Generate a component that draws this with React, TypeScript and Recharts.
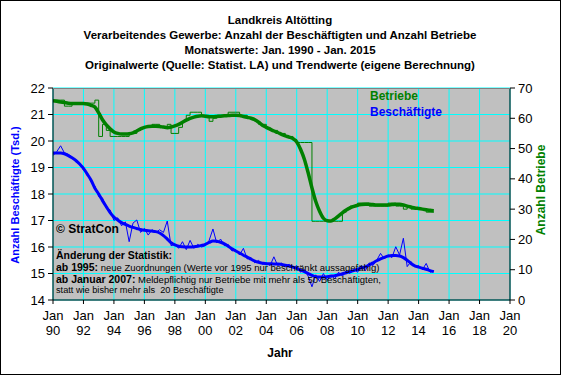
import React from "react";
import { ComposedChart, Line, XAxis, YAxis, CartesianGrid } from "recharts";

// Quarterly readings, Jan 1990 .. Jan 2015
const START_YEAR = 1990;
const STEP_YEARS = 0.25;

// Anzahl Beschäftigte (Tsd.) – Trendwerte
const beschTrend = [
  19.55, 19.55, 19.55, 19.52,
  19.45, 19.37, 19.27, 19.13,
  18.97, 18.75, 18.52, 18.22,
  18.0, 17.75, 17.52, 17.3,
  17.13, 17.02, 16.92, 16.85,
  16.79, 16.74, 16.7, 16.66,
  16.63, 16.61, 16.6, 16.58,
  16.53, 16.43, 16.3, 16.16,
  16.08, 16.03, 16.01, 16.0,
  16.0, 16.01, 16.03, 16.06,
  16.1, 16.17, 16.23, 16.22,
  16.18, 16.12, 16.03, 15.93,
  15.85, 15.77, 15.69, 15.62,
  15.54, 15.47, 15.42, 15.39,
  15.37, 15.37, 15.36, 15.36,
  15.34, 15.31, 15.28, 15.24,
  15.19, 15.13, 15.07, 15.0,
  14.93, 14.88, 14.87, 14.87,
  14.88, 14.9, 14.92, 14.95,
  14.99, 15.03, 15.07, 15.11,
  15.16, 15.21, 15.25, 15.32,
  15.4, 15.48, 15.55, 15.61,
  15.66, 15.68, 15.68, 15.66,
  15.6, 15.5, 15.38, 15.29,
  15.24, 15.2, 15.16, 15.11,
  15.07,
];

// Anzahl Beschäftigte (Tsd.) – Originalwerte
const beschOrig = [
  19.45, 19.6, 19.82, 19.55,
  19.5, 19.4, 19.2, 19.15,
  18.9, 18.8, 18.45, 18.3,
  17.9, 17.85, 17.45, 17.4,
  17.0, 17.1, 16.8, 16.95,
  16.2, 16.9, 17.02, 16.55,
  16.7, 16.45, 16.65, 16.55,
  16.65, 16.55, 16.98, 16.05,
  16.1, 15.95, 16.2, 15.9,
  16.25, 15.95, 16.1, 16.0,
  16.05, 16.25, 16.68, 16.15,
  16.3, 16.05, 16.1, 15.85,
  15.9, 15.7, 15.95, 15.55,
  15.6, 15.4, 15.5, 15.35,
  15.4, 15.3, 15.63, 15.3,
  15.4, 15.25, 15.35, 15.2,
  15.3, 15.05, 15.15, 14.9,
  14.5, 14.95, 14.7, 15.0,
  14.75, 14.95, 14.8, 15.05,
  14.9, 15.1, 15.0, 15.15,
  15.05, 15.3, 15.1, 15.4,
  15.3, 15.5, 15.76, 15.55,
  15.7, 15.6, 16.01, 15.7,
  16.33, 15.26, 15.45, 15.25,
  15.3, 15.15, 15.38, 15.05,
  15.1,
];

// Anzahl Betriebe – Trendwerte
const betrTrend = [
  65.8, 65.6, 65.4, 65.2,
  65.0, 64.9, 64.9, 64.9,
  64.9, 64.7, 64.3, 63.7,
  61.8, 59.5, 57.8, 56.5,
  55.5, 55.0, 54.8, 54.8,
  54.9, 55.2, 55.8, 56.5,
  57.0, 57.3, 57.4, 57.4,
  57.3, 57.1, 56.9, 57.1,
  57.5, 58.0, 58.7, 59.4,
  60.0, 60.4, 60.7, 60.8,
  60.7, 60.5, 60.5, 60.6,
  60.7, 60.8, 60.9, 61.0,
  61.0, 60.9, 60.6, 60.3,
  60.0, 59.5, 58.7, 57.7,
  57.0, 56.4, 55.8, 55.3,
  54.7, 54.2, 53.8, 53.3,
  52.2, 49.8, 46.5, 42.0,
  37.0, 32.5, 29.3, 27.0,
  26.2, 26.1, 26.8, 27.8,
  28.8, 29.7, 30.4, 30.9,
  31.3, 31.5, 31.6, 31.6,
  31.5, 31.4, 31.4, 31.4,
  31.4, 31.5, 31.6, 31.6,
  31.4, 31.0, 30.7, 30.4,
  30.2, 30.0, 29.8, 29.6,
  29.5,
];

// Anzahl Betriebe – Originalwerte
const betrOrig = [
  66, 66, 66, 64,
  64, 65, 65, 65,
  65, 65, 65, 66,
  54, 58, 56, 54,
  54, 54, 54, 54,
  55, 55, 56, 57,
  57, 57, 58, 58,
  57, 57, 58, 55,
  55, 57, 59, 61,
  62, 62, 62, 61,
  61, 59, 60, 61,
  61, 61, 62, 62,
  62, 61, 61, 60,
  60, 59, 58, 58,
  57, 56, 56, 55,
  55, 54, 54, 53,
  52, 52, 52, 52,
  26, 26, 26, 26,
  26, 26, 26, 26,
  29, 30, 31, 31,
  32, 32, 32, 31,
  31, 31, 31, 31,
  32, 32, 31, 31,
  30, 31, 30, 30,
  30, 30, 29, 29,
  29,
];

const xTicks = [1990, 1992, 1994, 1996, 1998, 2000, 2002, 2004, 2006, 2008, 2010, 2012, 2014, 2016, 2018, 2020];
const xTickLabels = ["90", "92", "94", "96", "98", "00", "02", "04", "06", "08", "10", "12", "14", "16", "18", "20"];
const leftTicks = [14, 15, 16, 17, 18, 19, 20, 21, 22];
const leftMinorTicks = [14.5, 15.5, 16.5, 17.5, 18.5, 19.5, 20.5, 21.5];
const rightTicks = [0, 10, 20, 30, 40, 50, 60, 70];
const rightMinorTicks = [5, 15, 25, 35, 45, 55, 65];

const data = beschTrend.map((v, i) => ({
  t: START_YEAR + i * STEP_YEARS,
  bt: v,
  bo: beschOrig[i],
  gt: betrTrend[i],
  go: betrOrig[i],
}));

const FONT = "'Liberation Sans', Arial, sans-serif";
const GREEN = "#008000";
const BLUE = "#0000FF";

const XTick = (props: any) => {
  const { x, y, payload } = props;
  const idx = xTicks.indexOf(payload.value);
  return (
    <g transform={`translate(${x},${y})`}>
      <text x={0} y={0} textAnchor="middle" fontSize={13} fill="#000" fontFamily={FONT}>
        <tspan x={0} dy={14}>Jan</tspan>
        <tspan x={0} dy={15}>{xTickLabels[idx]}</tspan>
      </text>
    </g>
  );
};

const C = ({ x, y, children, style }: any) => (
  <div
    style={{
      position: "absolute",
      left: x,
      top: y,
      transform: "translate(-50%,-50%)",
      whiteSpace: "nowrap",
      fontFamily: FONT,
      lineHeight: 1,
      ...style,
    }}
  >
    {children}
  </div>
);

const L = ({ x, y, children, style }: any) => (
  <div
    style={{
      position: "absolute",
      left: x,
      top: y,
      transform: "translate(0,-50%)",
      whiteSpace: "nowrap",
      fontFamily: FONT,
      lineHeight: 1,
      ...style,
    }}
  >
    {children}
  </div>
);

export default function App() {
  return (
    <div style={{ position: "relative", width: 561, height: 375, background: "#fff", overflow: "hidden" }}>
      <style>{"body{margin:0;}"}</style>
      <ComposedChart width={561} height={375} data={data} margin={{ top: 88, right: 0, bottom: 0, left: 0 }}>
        <CartesianGrid
          yAxisId="left"
          xAxisId="x"
          stroke="#00FFFF"
          strokeDasharray=""
          fill="#C0C0C0"
          fillOpacity={1}
        />
        <XAxis
          xAxisId="x"
          dataKey="t"
          type="number"
          domain={[1990, 2020]}
          ticks={xTicks}
          interval={0}
          height={75}
          tickSize={4}
          tickMargin={2}
          stroke="#000"
          tick={<XTick />}
          allowDataOverflow
        />
        <YAxis
          yAxisId="leftMinor"
          orientation="left"
          width={0}
          type="number"
          domain={[14, 22]}
          ticks={leftMinorTicks}
          tickSize={3}
          tick={false}
          axisLine={false}
          stroke="#000"
        />
        <YAxis
          yAxisId="left"
          orientation="left"
          width={53}
          type="number"
          domain={[14, 22]}
          ticks={leftTicks}
          interval={0}
          tickSize={5}
          tickMargin={3}
          stroke="#000"
          tick={{ fill: "#000", fontSize: 13, fontFamily: FONT }}
        />
        <YAxis
          yAxisId="rightMinor"
          orientation="right"
          width={0}
          type="number"
          domain={[0, 70]}
          ticks={rightMinorTicks}
          tickSize={3}
          tick={false}
          axisLine={false}
          stroke="#000"
        />
        <YAxis
          yAxisId="right"
          orientation="right"
          width={51}
          type="number"
          domain={[0, 70]}
          ticks={rightTicks}
          interval={0}
          tickSize={5}
          tickMargin={3}
          stroke="#000"
          tick={{ fill: "#000", fontSize: 13, fontFamily: FONT }}
        />
        <Line
          xAxisId="x"
          yAxisId="right"
          dataKey="gt"
          type="monotone"
          stroke={GREEN}
          strokeWidth={3.5}
          dot={false}
          isAnimationActive={false}
        />
        <Line
          xAxisId="x"
          yAxisId="right"
          dataKey="go"
          type="stepAfter"
          stroke={GREEN}
          strokeWidth={1}
          dot={false}
          isAnimationActive={false}
        />
        <Line
          xAxisId="x"
          yAxisId="left"
          dataKey="bt"
          type="monotone"
          stroke={BLUE}
          strokeWidth={3}
          dot={false}
          isAnimationActive={false}
        />
        <Line
          xAxisId="x"
          yAxisId="left"
          dataKey="bo"
          type="linear"
          stroke={BLUE}
          strokeWidth={1}
          dot={false}
          isAnimationActive={false}
        />
      </ComposedChart>

      {/* plot frame top */}
      <div style={{ position: "absolute", left: 53, top: 88, width: 457, height: 0, borderTop: "1px solid #808080", pointerEvents: "none" }} />

      {/* titles */}
      <C x={280} y={21} style={{ fontSize: 11.5, fontWeight: "bold" }}>Landkreis Altötting</C>
      <C x={280} y={36} style={{ fontSize: 11.5, fontWeight: "bold" }}>
        Verarbeitendes Gewerbe: Anzahl der Beschäftigten und Anzahl Betriebe
      </C>
      <C x={280} y={51} style={{ fontSize: 11.5, fontWeight: "bold" }}>Monatswerte: Jan. 1990 - Jan. 2015</C>
      <C x={280} y={66} style={{ fontSize: 11.5, fontWeight: "bold" }}>
        Originalwerte (Quelle: Statist. LA) und Trendwerte (eigene Berechnung)
      </C>

      {/* axis titles */}
      <C x={15} y={195} style={{ fontSize: 11, fontWeight: "bold", color: BLUE, transform: "translate(-50%,-50%) rotate(-90deg)" }}>
        Anzahl Beschäftigte (Tsd.)
      </C>
      <C x={541} y={190} style={{ fontSize: 12, fontWeight: "bold", color: GREEN, transform: "translate(-50%,-50%) rotate(-90deg)" }}>
        Anzahl Betriebe
      </C>
      <C x={280} y={353} style={{ fontSize: 12, fontWeight: "bold" }}>Jahr</C>

      {/* inline legend */}
      <L x={370} y={96} style={{ fontSize: 12, fontWeight: "bold", color: GREEN }}>Betriebe</L>
      <L x={370} y={112} style={{ fontSize: 12, fontWeight: "bold", color: BLUE }}>Beschäftigte</L>

      {/* notes */}
      <L x={56} y={229} style={{ fontSize: 12, fontWeight: "bold" }}>© StratCon</L>
      <L x={56} y={255} style={{ fontSize: 10.5, fontWeight: "bold" }}>Änderung der Statistik:</L>
      <L x={56} y={267} style={{ fontSize: 9.5 }}>
        <b style={{ fontSize: 10.5 }}>ab 1995:</b> neue Zuordnungen (Werte vor 1995 nur beschränkt aussagefähig)
      </L>
      <L x={56} y={279} style={{ fontSize: 9.5 }}>
        <b style={{ fontSize: 10.5 }}>ab Januar 2007:</b> Meldepflichtig nur Betriebe mit mehr als 50 Beschäftigten,
      </L>
      <L x={56} y={291} style={{ fontSize: 9.2 }}>statt wie bisher mehr als&nbsp; 20 Beschäftigte</L>

      {/* outer frame */}
      <div style={{ position: "absolute", left: 0, top: 0, width: 561, height: 375, boxSizing: "border-box", border: "1px solid #000", pointerEvents: "none" }} />
    </div>
  );
}
